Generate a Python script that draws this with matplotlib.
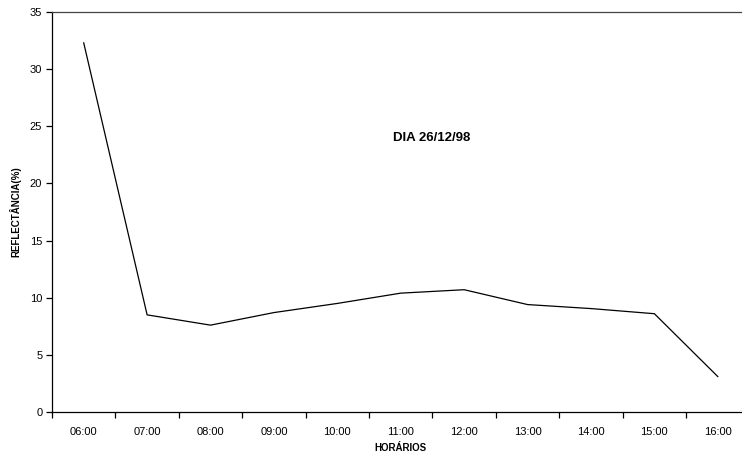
import matplotlib
matplotlib.use('Agg')
import matplotlib.pyplot as plt
from matplotlib.ticker import FixedLocator

plt.rcParams['font.family'] = ['Liberation Sans', 'DejaVu Sans']

horarios = ['06:00', '07:00', '08:00', '09:00', '10:00', '11:00',
            '12:00', '13:00', '14:00', '15:00', '16:00']
reflectancia = [32.3, 8.5, 7.6, 8.7, 9.5, 10.4, 10.7, 9.4, 9.05, 8.6, 3.1]
y_ticks = [0, 5, 10, 15, 20, 25, 30, 35]

fig = plt.figure(figsize=(7.42, 4.54), dpi=100)
# axes run slightly past the right edge, as in the cropped original
ax = fig.add_axes([52 / 742, 42 / 454, 697.5 / 742, 400 / 454])

x = list(range(len(horarios)))
ax.plot(x, reflectancia, color='black', lw=0.9)

ax.set_xlim(-0.5, len(horarios) - 0.5)
ax.set_ylim(0, 35)
ax.set_yticks(y_ticks)
ax.set_xticks(x)
ax.set_xticklabels(horarios)
ax.xaxis.set_minor_locator(FixedLocator([i - 0.5 for i in range(len(horarios) + 1)]))
ax.tick_params(axis='x', which='major', length=0, pad=11, labelsize=8)
ax.tick_params(axis='x', which='minor', length=4, width=0.9, direction='out')
ax.tick_params(axis='y', length=4, width=0.9, direction='out', labelsize=8, pad=3)

for s in ['left', 'bottom', 'top']:
    ax.spines[s].set_linewidth(0.9)
    ax.spines[s].set_color('black')
ax.spines['top'].set_color('#444444')
ax.spines['right'].set_visible(False)

fig.text(400 / 742, 1 - 448 / 454, 'HORÁRIOS', fontsize=7, fontweight='bold',
         ha='center', va='center')
ax.set_ylabel('REFLECTÂNCIA(%)', fontsize=7, fontweight='bold', labelpad=6)
ax.text(5.49, 24.0, 'DIA 26/12/98', fontsize=9.5, fontweight='bold',
        ha='center', va='center')

fig.savefig('out.png', dpi=100)
